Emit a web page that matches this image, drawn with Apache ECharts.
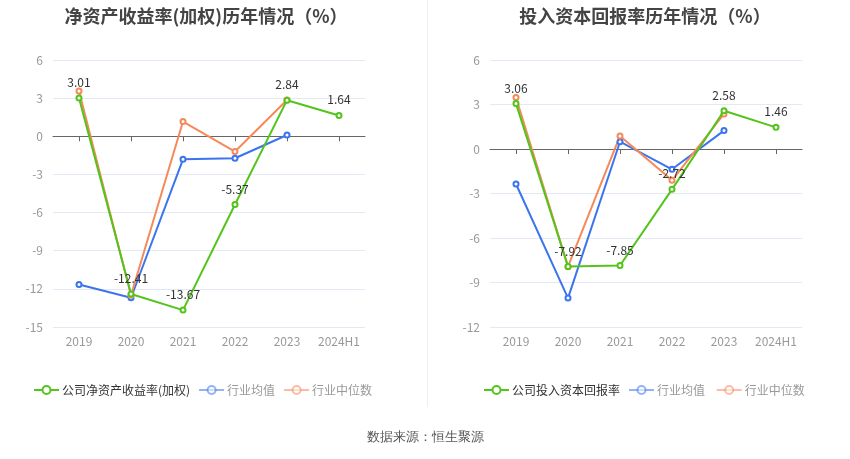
<!DOCTYPE html>
<html><head><meta charset="utf-8">
<script src="https://cdn.jsdelivr.net/npm/echarts@6/dist/echarts.min.js"></script>
<style>html,body{margin:0;padding:0;background:#fff}#c{width:850px;height:459px}</style>
</head><body><div id="c"></div>
<script>
const categories = ['2019','2020','2021','2022','2023','2024H1'];
// Left chart: ROE (weighted)
const roeCompany = [3.01, -12.41, -13.67, -5.37, 2.84, 1.64];
const roeIndustryAvg = [-11.65, -12.7, -1.81, -1.73, 0.1, null];
const roeIndustryMedian = [3.57, -12.5, 1.16, -1.2, 2.86, null];
// Right chart: ROIC
const roicCompany = [3.06, -7.92, -7.85, -2.72, 2.58, 1.46];
const roicIndustryAvg = [-2.36, -10.05, 0.49, -1.37, 1.24, null];
const roicIndustryMedian = [3.47, -7.93, 0.88, -2.11, 2.36, null];

const leftTicks = {min: -15, max: 6, interval: 3};
const rightTicks = {min: -12, max: 6, interval: 3};

const GREEN = '#52c41a', BLUE = '#3a74ee', ORANGE = '#f6895a';
const FONT = '"Noto Sans CJK SC", "Noto Sans", sans-serif';

function xAxes(gi) {
  return [
    {type:'category', gridIndex: gi, data: categories, boundaryGap: true,
     axisLine:{onZero:true, lineStyle:{color:'#666'}},
     axisTick:{show:true, alignWithLabel:true, interval:0, length:5, lineStyle:{color:'#666'}},
     axisLabel:{show:false}, splitLine:{show:false}},
    {type:'category', gridIndex: gi, data: categories, boundaryGap: true, position:'bottom',
     axisLine:{show:false, onZero:false}, axisTick:{show:false},
     axisLabel:{color:'#999', fontSize:12, margin:8, interval:0}}
  ];
}
function yAxis(gi, t) {
  return {type:'value', gridIndex: gi, min:t.min, max:t.max, interval:t.interval,
    axisLine:{show:false}, axisTick:{show:false},
    axisLabel:{color:'#999', fontSize:12, margin:10},
    splitLine:{lineStyle:{color:'#e3e8f5'}}};
}
function line(name, data, color, xi, yi, labels) {
  return {name, type:'line', data, xAxisIndex: xi, yAxisIndex: yi,
    symbol:'emptyCircle', symbolSize:5, connectNulls:false,
    lineStyle:{color, width:2}, itemStyle:{color, borderWidth:2},
    label: labels ? {show:true, position:'top', color:'#333', fontSize:12, distance:6} : {show:false},
    z: labels ? 3 : 2};
}
function legend(left, names) {
  return {left, top: 384, padding:0, itemWidth: 25, itemHeight: 10, itemGap: 8,
    textStyle:{fontSize:12, color:'#333', padding:[0,0,0,-2]},
    data: [
      {name: names[0], textStyle:{color:'#333'}},
      {name: names[1], textStyle:{color:'#999'}, itemStyle:{opacity:0.55}, lineStyle:{opacity:0.55}},
      {name: names[2], textStyle:{color:'#999'}, itemStyle:{opacity:0.55}, lineStyle:{opacity:0.55}}
    ]};
}

const chart = echarts.init(document.getElementById('c'));
chart.setOption({
  animation:false,
  textStyle:{fontFamily: FONT},
  title:[
    {text:'净资产收益率(加权)历年情况（%）', left:201, top:2, textAlign:'center',
     textStyle:{fontSize:18, fontWeight:'bold', color:'#444', fontFamily: FONT}},
    {text:'投入资本回报率历年情况（%）', left:640, top:2, textAlign:'center',
     textStyle:{fontSize:18, fontWeight:'bold', color:'#444', fontFamily: FONT}}
  ],
  legend:[
    legend(33, ['公司净资产收益率(加权)','行业均值','行业中位数']),
    legend(483, ['公司投入资本回报率','行业均值 ','行业中位数 '])
  ],
  grid:[
    {left:53, width:312, top:60, height:267},
    {left:490, width:312, top:60, height:267}
  ],
  xAxis:[...xAxes(0), ...xAxes(1)],
  yAxis:[yAxis(0,leftTicks), yAxis(1,rightTicks)],
  series:[
    line('行业均值', roeIndustryAvg, BLUE, 0, 0, false),
    line('行业中位数', roeIndustryMedian, ORANGE, 0, 0, false),
    line('公司净资产收益率(加权)', roeCompany, GREEN, 0, 0, true),
    line('行业均值 ', roicIndustryAvg, BLUE, 2, 1, false),
    line('行业中位数 ', roicIndustryMedian, ORANGE, 2, 1, false),
    line('公司投入资本回报率', roicCompany, GREEN, 2, 1, true)
  ],
  graphic:[
    {type:'line', shape:{x1:427.5, y1:0, x2:427.5, y2:407}, style:{stroke:'#eeeeee', lineWidth:1}},
    {type:'text', left:'center', top:431, style:{text:'数据来源：恒生聚源', fontSize:13, fill:'#555', font:'13px "Noto Sans CJK SC", sans-serif'}}
  ]
});
</script></body></html>
